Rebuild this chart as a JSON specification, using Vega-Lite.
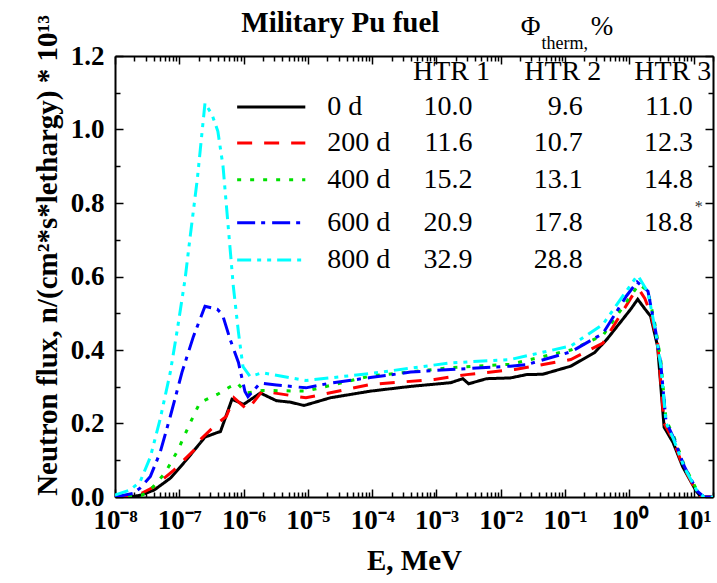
{
  "$schema": "https://vega.github.io/schema/vega-lite/v6.json",
  "width": 598,
  "height": 441,
  "autosize": {"type": "none"},
  "padding": {"left": 115, "top": 56, "right": 4, "bottom": 86},
  "background": "white",
  "config": {
    "view": {"stroke": null},
    "font": "Liberation Serif",
    "axis": {
      "domainColor": "black", "domainWidth": 2, "tickColor": "black", "tickWidth": 1.5,
      "labelFont": "Liberation Serif", "labelFontWeight": "bold", "labelFontSize": 27, "labelColor": "black",
      "titleFont": "Liberation Serif", "titleFontWeight": "bold", "titleFontSize": 29, "titleColor": "black",
      "grid": false, "labelOverlap": false, "labelBound": false, "labelFlush": false
    }
  },
  "datasets": {
    "flux": [
      {"d":"0 d","E":1e-8,"f":0},{"d":"0 d","E":1.7e-8,"f":0},{"d":"0 d","E":2.5e-8,"f":0.005},{"d":"0 d","E":4.07e-8,"f":0.019},{"d":"0 d","E":7.24e-8,"f":0.051},{"d":"0 d","E":1.29e-7,"f":0.101},{"d":"0 d","E":2.51e-7,"f":0.163},{"d":"0 d","E":3.98e-7,"f":0.176},{"d":"0 d","E":4.37e-7,"f":0.178},{"d":"0 d","E":6.6e-7,"f":0.266},{"d":"0 d","E":1.0e-6,"f":0.252},{"d":"0 d","E":1.82e-6,"f":0.283},{"d":"0 d","E":3.24e-6,"f":0.262},{"d":"0 d","E":5.37e-6,"f":0.258},{"d":"0 d","E":8.71e-6,"f":0.249},{"d":"0 d","E":2.24e-5,"f":0.27},{"d":"0 d","E":9.33e-5,"f":0.288},{"d":"0 d","E":3.98e-4,"f":0.301},{"d":"0 d","E":1.66e-3,"f":0.311},{"d":"0 d","E":2.57e-3,"f":0.322},{"d":"0 d","E":3.16e-3,"f":0.308},{"d":"0 d","E":6.03e-3,"f":0.322},{"d":"0 d","E":1.41e-2,"f":0.324},{"d":"0 d","E":2.51e-2,"f":0.333},{"d":"0 d","E":4.5e-2,"f":0.334},{"d":"0 d","E":0.123,"f":0.356},{"d":"0 d","E":0.288,"f":0.393},{"d":"0 d","E":0.447,"f":0.429},{"d":"0 d","E":1.05,"f":0.511},{"d":"0 d","E":1.35,"f":0.538},{"d":"0 d","E":1.74,"f":0.512},{"d":"0 d","E":2.14,"f":0.492},{"d":"0 d","E":2.75,"f":0.41},{"d":"0 d","E":3.47,"f":0.19},{"d":"0 d","E":4.79,"f":0.148},{"d":"0 d","E":6.76,"f":0.082},{"d":"0 d","E":10.7,"f":0.019},{"d":"0 d","E":12.9,"f":0},{"d":"0 d","E":20,"f":0},
      {"d":"200 d","E":1e-8,"f":0},{"d":"200 d","E":2.45e-8,"f":0.008},{"d":"200 d","E":4.07e-8,"f":0.028},{"d":"200 d","E":8.32e-8,"f":0.074},{"d":"200 d","E":1.7e-7,"f":0.128},{"d":"200 d","E":2.09e-7,"f":0.155},{"d":"200 d","E":3.89e-7,"f":0.2},{"d":"200 d","E":5.37e-7,"f":0.219},{"d":"200 d","E":7.08e-7,"f":0.27},{"d":"200 d","E":1.15e-6,"f":0.237},{"d":"200 d","E":1.95e-6,"f":0.288},{"d":"200 d","E":9.33e-6,"f":0.27},{"d":"200 d","E":9.33e-5,"f":0.306},{"d":"200 d","E":9.33e-4,"f":0.32},{"d":"200 d","E":2.95e-3,"f":0.333},{"d":"200 d","E":1.66e-2,"f":0.347},{"d":"200 d","E":0.123,"f":0.374},{"d":"200 d","E":0.389,"f":0.419},{"d":"200 d","E":1.2,"f":0.557},{"d":"200 d","E":1.41,"f":0.565},{"d":"200 d","E":1.74,"f":0.54},{"d":"200 d","E":2.14,"f":0.5},{"d":"200 d","E":2.75,"f":0.42},{"d":"200 d","E":3.47,"f":0.2},{"d":"200 d","E":4.79,"f":0.156},{"d":"200 d","E":6.76,"f":0.085},{"d":"200 d","E":10.7,"f":0.02},{"d":"200 d","E":12.9,"f":0},{"d":"200 d","E":20,"f":0},
      {"d":"400 d","E":1e-8,"f":0},{"d":"400 d","E":2.63e-8,"f":0.005},{"d":"400 d","E":3.89e-8,"f":0.027},{"d":"400 d","E":6.03e-8,"f":0.066},{"d":"400 d","E":9.55e-8,"f":0.128},{"d":"400 d","E":1.48e-7,"f":0.202},{"d":"400 d","E":2.09e-7,"f":0.257},{"d":"400 d","E":3.89e-7,"f":0.279},{"d":"400 d","E":6.17e-7,"f":0.3},{"d":"400 d","E":7.94e-7,"f":0.31},{"d":"400 d","E":1.1e-6,"f":0.283},{"d":"400 d","E":1.95e-6,"f":0.29},{"d":"400 d","E":9.33e-6,"f":0.288},{"d":"400 d","E":9.33e-5,"f":0.329},{"d":"400 d","E":1.66e-3,"f":0.352},{"d":"400 d","E":1.41e-2,"f":0.361},{"d":"400 d","E":0.123,"f":0.4},{"d":"400 d","E":0.389,"f":0.44},{"d":"400 d","E":1.41,"f":0.579},{"d":"400 d","E":1.95,"f":0.56},{"d":"400 d","E":2.57,"f":0.46},{"d":"400 d","E":3.09,"f":0.37},{"d":"400 d","E":3.72,"f":0.21},{"d":"400 d","E":4.9,"f":0.165},{"d":"400 d","E":7.08,"f":0.088},{"d":"400 d","E":11.5,"f":0.015},{"d":"400 d","E":14.5,"f":0},{"d":"400 d","E":20,"f":0},
      {"d":"600 d","E":1e-8,"f":0},{"d":"600 d","E":1.91e-8,"f":0.01},{"d":"600 d","E":2.45e-8,"f":0.024},{"d":"600 d","E":3.55e-8,"f":0.056},{"d":"600 d","E":5.01e-8,"f":0.12},{"d":"600 d","E":7.24e-8,"f":0.219},{"d":"600 d","E":1.1e-7,"f":0.339},{"d":"600 d","E":1.66e-7,"f":0.437},{"d":"600 d","E":2.51e-7,"f":0.519},{"d":"600 d","E":3.89e-7,"f":0.511},{"d":"600 d","E":4.68e-7,"f":0.497},{"d":"600 d","E":6.17e-7,"f":0.429},{"d":"600 d","E":8.32e-7,"f":0.366},{"d":"600 d","E":1.05e-6,"f":0.287},{"d":"600 d","E":1.17e-6,"f":0.273},{"d":"600 d","E":1.82e-6,"f":0.31},{"d":"600 d","E":3.24e-6,"f":0.305},{"d":"600 d","E":9.33e-6,"f":0.297},{"d":"600 d","E":2.24e-5,"f":0.31},{"d":"600 d","E":9.33e-5,"f":0.325},{"d":"600 d","E":3.98e-4,"f":0.34},{"d":"600 d","E":1.66e-3,"f":0.347},{"d":"600 d","E":1.41e-2,"f":0.356},{"d":"600 d","E":2.51e-2,"f":0.36},{"d":"600 d","E":0.123,"f":0.395},{"d":"600 d","E":0.389,"f":0.445},{"d":"600 d","E":0.9,"f":0.547},{"d":"600 d","E":1.32,"f":0.585},{"d":"600 d","E":1.95,"f":0.56},{"d":"600 d","E":2.57,"f":0.45},{"d":"600 d","E":3.09,"f":0.36},{"d":"600 d","E":3.72,"f":0.205},{"d":"600 d","E":4.9,"f":0.16},{"d":"600 d","E":7.08,"f":0.085},{"d":"600 d","E":11.5,"f":0.015},{"d":"600 d","E":14.5,"f":0},{"d":"600 d","E":20,"f":0},
      {"d":"800 d","E":1e-8,"f":0.005},{"d":"800 d","E":1.7e-8,"f":0.019},{"d":"800 d","E":2.45e-8,"f":0.041},{"d":"800 d","E":3.55e-8,"f":0.109},{"d":"800 d","E":5.01e-8,"f":0.21},{"d":"800 d","E":7.24e-8,"f":0.339},{"d":"800 d","E":9.33e-8,"f":0.456},{"d":"800 d","E":1.23e-7,"f":0.593},{"d":"800 d","E":1.48e-7,"f":0.71},{"d":"800 d","E":1.91e-7,"f":0.866},{"d":"800 d","E":2.29e-7,"f":1.003},{"d":"800 d","E":2.51e-7,"f":1.072},{"d":"800 d","E":3.24e-7,"f":1.04},{"d":"800 d","E":3.98e-7,"f":0.995},{"d":"800 d","E":4.79e-7,"f":0.9},{"d":"800 d","E":5.75e-7,"f":0.738},{"d":"800 d","E":6.92e-7,"f":0.574},{"d":"800 d","E":8.32e-7,"f":0.448},{"d":"800 d","E":9.77e-7,"f":0.355},{"d":"800 d","E":1.26e-6,"f":0.328},{"d":"800 d","E":1.95e-6,"f":0.338},{"d":"800 d","E":9.33e-6,"f":0.317},{"d":"800 d","E":9.33e-5,"f":0.336},{"d":"800 d","E":1.66e-3,"f":0.365},{"d":"800 d","E":1.41e-2,"f":0.374},{"d":"800 d","E":0.123,"f":0.411},{"d":"800 d","E":0.389,"f":0.47},{"d":"800 d","E":1.32,"f":0.602},{"d":"800 d","E":1.41,"f":0.598},{"d":"800 d","E":1.95,"f":0.557},{"d":"800 d","E":2.57,"f":0.448},{"d":"800 d","E":3.09,"f":0.355},{"d":"800 d","E":3.72,"f":0.202},{"d":"800 d","E":4.9,"f":0.156},{"d":"800 d","E":7.08,"f":0.082},{"d":"800 d","E":11.5,"f":0.014},{"d":"800 d","E":14.5,"f":0},{"d":"800 d","E":20,"f":0}
    ],
    "legend": [
      {"d":"0 d","E1":7.94e-7,"E2":9.12e-6,"f":1.061},
      {"d":"200 d","E1":7.94e-7,"E2":9.12e-6,"f":0.963},
      {"d":"400 d","E1":7.94e-7,"E2":9.12e-6,"f":0.863},
      {"d":"600 d","E1":7.94e-7,"E2":9.12e-6,"f":0.746},
      {"d":"800 d","E1":7.94e-7,"E2":9.12e-6,"f":0.645}
    ],
    "names": [
      {"t":"0 d","E":2.0e-5,"f":1.061},
      {"t":"200 d","E":2.0e-5,"f":0.963},
      {"t":"400 d","E":2.0e-5,"f":0.863},
      {"t":"600 d","E":2.0e-5,"f":0.746},
      {"t":"800 d","E":2.0e-5,"f":0.645}
    ],
    "nums": [
      {"t":"10.0","E":3.63e-3,"f":1.061},{"t":"9.6","E":0.188,"f":1.061},{"t":"11.0","E":9.73,"f":1.061},
      {"t":"11.6","E":3.63e-3,"f":0.963},{"t":"10.7","E":0.188,"f":0.963},{"t":"12.3","E":9.73,"f":0.963},
      {"t":"15.2","E":3.63e-3,"f":0.863},{"t":"13.1","E":0.188,"f":0.863},{"t":"14.8","E":9.73,"f":0.863},
      {"t":"20.9","E":3.63e-3,"f":0.746},{"t":"17.8","E":0.188,"f":0.746},{"t":"18.8","E":9.73,"f":0.746},
      {"t":"32.9","E":3.63e-3,"f":0.645},{"t":"28.8","E":0.188,"f":0.645}
    ],
    "heads": [
      {"t":"HTR 1","E":1.71e-3,"f":1.156},{"t":"HTR 2","E":0.0918,"f":1.156},{"t":"HTR 3","E":4.74,"f":1.156}
    ],
    "title": [{"t":"Military Pu fuel","E":3.2e-5,"f":1.29}],
    "phi": [{"t":"Φ","E":0.0204,"f":1.279},{"t":"%","E":0.25,"f":1.279}],
    "sub": [{"t":"therm,","E":0.0432,"f":1.233}],
    "star": [{"t":"*","E":12.0,"f":0.789}]
  },
  "resolve": {"axis": {"x": "independent", "y": "independent"}},
  "layer": [
    {
      "data": {"name": "flux"},
      "mark": {"type": "line", "strokeWidth": 3, "clip": true},
      "encoding": {
        "x": {"field": "E", "type": "quantitative", "scale": {"type": "log", "domain": [1e-8, 20], "nice": false},
          "axis": {"orient": "bottom", "title": "E, MeV", "titleX": 299, "titleY": 63, "titleBaseline": "middle", "titleAlign": "center",
            "values": [1e-8,2e-8,3e-8,4e-8,5e-8,6e-8,7e-8,8e-8,9e-8,1e-7,2e-7,3e-7,4e-7,5e-7,6e-7,7e-7,8e-7,9e-7,1e-6,2e-6,3e-6,4e-6,5e-6,6e-6,7e-6,8e-6,9e-6,1e-5,2e-5,3e-5,4e-5,5e-5,6e-5,7e-5,8e-5,9e-5,1e-4,2e-4,3e-4,4e-4,5e-4,6e-4,7e-4,8e-4,9e-4,1e-3,2e-3,3e-3,4e-3,5e-3,6e-3,7e-3,8e-3,9e-3,0.01,0.02,0.03,0.04,0.05,0.06,0.07,0.08,0.09,0.1,0.2,0.3,0.4,0.5,0.6,0.7,0.8,0.9,1,2,3,4,5,6,7,8,9,10,20],
            "labelExpr": "abs(log(datum.value)/LN10 - round(log(datum.value)/LN10)) < 0.001 ? ['10⁻⁸','10⁻⁷','10⁻⁶','10⁻⁵','10⁻⁴','10⁻³','10⁻²','10⁻¹','10⁰','10¹'][round(log(datum.value)/LN10)+8] : ''",
            "tickSize": {"condition": {"test": "abs(log(datum.value)/LN10 - round(log(datum.value)/LN10)) < 0.001", "value": -8}, "value": -5},
            "labelPadding": 18, "labelBaseline": "top"}},
        "y": {"field": "f", "type": "quantitative", "scale": {"domain": [0, 1.2], "nice": false, "zero": false},
          "axis": {"orient": "left", "title": "Neutron flux, n/(cm²*s*lethargy) * 10¹³", "titleX": -68, "titleY": 199, "titleAngle": 270, "titleBaseline": "middle", "titleAlign": "center",
            "values": [0,0.1,0.2,0.3,0.4,0.5,0.6,0.7,0.8,0.9,1.0,1.1,1.2],
            "labelExpr": "round(datum.value*10)%2==0 ? format(datum.value,'.1f') : ''",
            "tickSize": {"condition": {"test": "round(datum.value*10)%2==0", "value": -8}, "value": -5},
            "labelPadding": 19}},
        "color": {"field": "d", "type": "nominal", "scale": {"domain": ["0 d","200 d","400 d","600 d","800 d"], "range": ["#000000","#ff0000","#00e000","#0000ff","#00ffff"]}, "legend": null},
        "strokeDash": {"field": "d", "type": "nominal", "scale": {"domain": ["0 d","200 d","400 d","600 d","800 d"], "range": [[1,0],[15,12],[4,9],[18,6,4,7],[14,6,4,6,4,6]]}, "legend": null}
      }
    },
    {
      "data": {"name": "legend"},
      "mark": {"type": "rule", "strokeWidth": 3},
      "encoding": {
        "x": {"field": "E1", "type": "quantitative", "scale": {"type": "log"},
          "axis": {"orient": "top", "title": null, "labels": false,
            "values": [1e-8,2e-8,3e-8,4e-8,5e-8,6e-8,7e-8,8e-8,9e-8,1e-7,2e-7,3e-7,4e-7,5e-7,6e-7,7e-7,8e-7,9e-7,1e-6,2e-6,3e-6,4e-6,5e-6,6e-6,7e-6,8e-6,9e-6,1e-5,2e-5,3e-5,4e-5,5e-5,6e-5,7e-5,8e-5,9e-5,1e-4,2e-4,3e-4,4e-4,5e-4,6e-4,7e-4,8e-4,9e-4,1e-3,2e-3,3e-3,4e-3,5e-3,6e-3,7e-3,8e-3,9e-3,0.01,0.02,0.03,0.04,0.05,0.06,0.07,0.08,0.09,0.1,0.2,0.3,0.4,0.5,0.6,0.7,0.8,0.9,1,2,3,4,5,6,7,8,9,10,20],
            "tickSize": {"condition": {"test": "abs(log(datum.value)/LN10 - round(log(datum.value)/LN10)) < 0.001", "value": -8}, "value": -5}}},
        "x2": {"field": "E2"},
        "y": {"field": "f", "type": "quantitative",
          "axis": {"orient": "right", "title": null, "labels": false,
            "values": [0,0.1,0.2,0.3,0.4,0.5,0.6,0.7,0.8,0.9,1.0,1.1,1.2],
            "tickSize": {"condition": {"test": "round(datum.value*10)%2==0", "value": -8}, "value": -5}}},
        "color": {"field": "d", "type": "nominal", "legend": null},
        "strokeDash": {"field": "d", "type": "nominal", "legend": null}
      }
    },
    {
      "data": {"name": "names"},
      "mark": {"type": "text", "align": "left", "baseline": "middle", "fontSize": 28, "font": "Liberation Serif", "color": "black"},
      "encoding": {
        "x": {"field": "E", "type": "quantitative", "scale": {"type": "log"}, "axis": null},
        "y": {"field": "f", "type": "quantitative", "axis": null},
        "text": {"field": "t"}
      }
    },
    {
      "data": {"name": "nums"},
      "mark": {"type": "text", "align": "right", "baseline": "middle", "fontSize": 28, "font": "Liberation Serif", "color": "black"},
      "encoding": {
        "x": {"field": "E", "type": "quantitative", "scale": {"type": "log"}, "axis": null},
        "y": {"field": "f", "type": "quantitative", "axis": null},
        "text": {"field": "t"}
      }
    },
    {
      "data": {"name": "heads"},
      "mark": {"type": "text", "align": "center", "baseline": "middle", "fontSize": 28, "font": "Liberation Serif", "color": "black"},
      "encoding": {
        "x": {"field": "E", "type": "quantitative", "scale": {"type": "log"}, "axis": null},
        "y": {"field": "f", "type": "quantitative", "axis": null},
        "text": {"field": "t"}
      }
    },
    {
      "data": {"name": "title"},
      "mark": {"type": "text", "align": "center", "baseline": "middle", "fontSize": 29, "fontWeight": "bold", "font": "Liberation Serif", "color": "black"},
      "encoding": {
        "x": {"field": "E", "type": "quantitative", "scale": {"type": "log"}, "axis": null},
        "y": {"field": "f", "type": "quantitative", "axis": null},
        "text": {"field": "t"}
      }
    },
    {
      "data": {"name": "phi"},
      "mark": {"type": "text", "align": "left", "baseline": "middle", "fontSize": 27, "font": "Liberation Serif", "color": "black"},
      "encoding": {
        "x": {"field": "E", "type": "quantitative", "scale": {"type": "log"}, "axis": null},
        "y": {"field": "f", "type": "quantitative", "axis": null},
        "text": {"field": "t"}
      }
    },
    {
      "data": {"name": "sub"},
      "mark": {"type": "text", "align": "left", "baseline": "middle", "fontSize": 18, "font": "Liberation Serif", "color": "black"},
      "encoding": {
        "x": {"field": "E", "type": "quantitative", "scale": {"type": "log"}, "axis": null},
        "y": {"field": "f", "type": "quantitative", "axis": null},
        "text": {"field": "t"}
      }
    },
    {
      "data": {"name": "star"},
      "mark": {"type": "text", "align": "center", "baseline": "middle", "fontSize": 16, "font": "Liberation Serif", "color": "#333333"},
      "encoding": {
        "x": {"field": "E", "type": "quantitative", "scale": {"type": "log"}, "axis": null},
        "y": {"field": "f", "type": "quantitative", "axis": null},
        "text": {"field": "t"}
      }
    }
  ]
}
